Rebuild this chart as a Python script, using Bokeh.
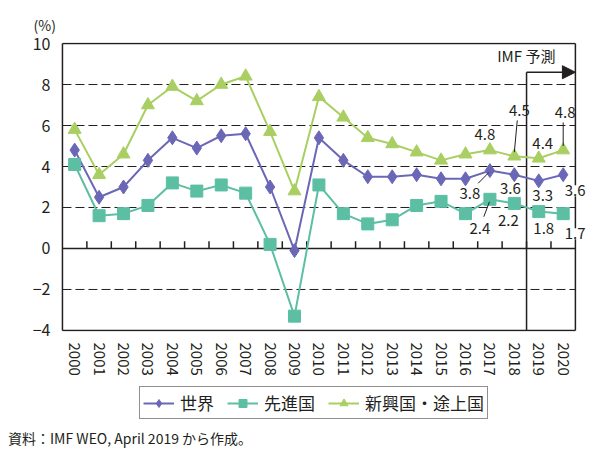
from bokeh.plotting import figure
from bokeh.layouts import column
from bokeh.models import (Range1d, FixedTicker, Label, Legend, LegendItem,
                          Arrow, NormalHead, Title, Div)
from bokeh.embed import file_html
from bokeh.resources import INLINE

# ---------------- data ----------------
years = [str(y) for y in range(2000, 2021)]
world = [4.8, 2.5, 3.0, 4.3, 5.4, 4.9, 5.5, 5.6, 3.0, -0.1, 5.4,
         4.3, 3.5, 3.5, 3.6, 3.4, 3.4, 3.8, 3.6, 3.3, 3.6]
advanced = [4.1, 1.6, 1.7, 2.1, 3.2, 2.8, 3.1, 2.7, 0.2, -3.3, 3.1,
            1.7, 1.2, 1.4, 2.1, 2.3, 1.7, 2.4, 2.2, 1.8, 1.7]
emerging = [5.8, 3.6, 4.6, 7.0, 7.9, 7.2, 8.0, 8.4, 5.7, 2.8, 7.4,
            6.4, 5.4, 5.1, 4.7, 4.3, 4.6, 4.8, 4.5, 4.4, 4.8]
series_names = ["世界", "先進国", "新興国・途上国"]
y_ticks = [-4, -2, 0, 2, 4, 6, 8, 10]
grid_levels = [-2, 2, 4, 6, 8]
forecast_start = "2019"
forecast_label = "IMF 予測"
unit_label = "(%)"
source_note = "資料：IMF WEO, April 2019 から作成。"
annotated_years = ["2017", "2018", "2019", "2020"]

FONT = "Noto Sans CJK JP"
INK = "#231f20"
C_WORLD = "#6b67b7"
C_ADV = "#5cbfa3"
C_EM = "#a9cf62"

xs = list(range(len(years)))
n = len(years)
x_lo, x_hi = -0.5, n - 0.5          # visible plot box
y_lo, y_hi = y_ticks[0], y_ticks[-1]

W, H1, H2, H3 = 600, 386, 40, 24

p = figure(width=W, height=H1, output_backend="svg", toolbar_location=None,
           x_range=Range1d(x_lo - 0.08, x_hi + 0.7),
           y_range=Range1d(y_lo - 0.05, y_hi + 0.05),
           min_border_left=60, min_border_right=8, min_border_top=42,
           min_border_bottom=H1 - 331)
p.background_fill_color = "white"
p.border_fill_color = "white"
p.outline_line_color = None

# axes
p.yaxis.ticker = FixedTicker(ticks=y_ticks)
p.yaxis.axis_line_color = None
p.yaxis.major_tick_line_color = None
p.yaxis.minor_tick_line_color = None
p.yaxis.major_label_text_font = FONT
p.yaxis.major_label_text_font_size = "16px"
p.yaxis.major_label_text_color = INK
p.yaxis.major_label_standoff = 4

p.xaxis.ticker = FixedTicker(ticks=xs)
p.xaxis.major_label_overrides = {i: y for i, y in enumerate(years)}
p.xaxis.major_label_orientation = "vertical"
p.xaxis.axis_line_color = None
p.xaxis.major_tick_line_color = None
p.xaxis.minor_tick_line_color = None
p.xaxis.major_label_text_font = FONT
p.xaxis.major_label_text_font_size = "15px"
p.xaxis.major_label_text_color = INK
p.xaxis.major_label_standoff = 5

p.xgrid.visible = False
p.ygrid.visible = False

# dashed grid lines limited to the plot box
p.segment(x0=[x_lo] * len(grid_levels), y0=grid_levels, x1=[x_hi] * len(grid_levels),
          y1=grid_levels, line_color=INK, line_width=1, line_dash="9 4")

# plot box
p.segment(x0=[x_lo, x_lo, x_lo, x_hi], y0=[y_lo, y_hi, y_lo, y_lo],
          x1=[x_hi, x_hi, x_lo, x_hi], y1=[y_lo, y_hi, y_hi, y_hi],
          line_color=INK, line_width=1.5)

# zero line with category-boundary ticks
p.segment(x0=[x_lo], y0=[0], x1=[x_hi], y1=[0], line_color=INK, line_width=1.5)
bx = [i + 0.5 for i in xs[:-1]]
p.segment(x0=bx, y0=[0] * len(bx), x1=bx, y1=[0.35] * len(bx), line_color=INK, line_width=1.5)

# forecast marker
fi = years.index(forecast_start) - 0.5
arrow_y = 8.6
p.segment(x0=[fi], y0=[y_lo], x1=[fi], y1=[arrow_y], line_color=INK, line_width=1.5)
p.add_layout(Arrow(x_start=fi, y_start=arrow_y, x_end=x_hi, y_end=arrow_y,
                   line_color=INK, line_width=1.5,
                   end=NormalHead(size=13, fill_color=INK, line_color=INK)))
p.add_layout(Label(x=x_hi, y=9.42, x_offset=-20, text=forecast_label, text_align="right",
                   text_baseline="middle", text_font=FONT, text_font_size="15px",
                   text_color=INK))

# series
marker_sizes = {"diamond": 14, "square": 12, "triangle": 13}
styles = [("diamond", C_WORLD), ("square", C_ADV), ("triangle", C_EM)]
series = [world, advanced, emerging]
for vals, (mk, col) in zip(series, styles):
    p.line(xs, vals, line_color=col, line_width=2)
    p.scatter(xs, vals, marker=mk, size=marker_sizes[mk], fill_color=col, line_color=col)

# value annotations: offsets (px) per annotated year
offsets = {
    "em": [(-5, 16), (5, 46), (4, 15), (2, 38)],
    "w": [(-20, -23), (-4, -14), (4, -15), (12, -16)],
    "a": [(-10, -29), (-6, -17), (5, -17), (12, -20)],
}
data = {"em": emerging, "w": world, "a": advanced}
for key, offs in offsets.items():
    vals = data[key]
    for yr, (dx, dy) in zip(annotated_years, offs):
        i = years.index(yr)
        bg = "white" if (i == n - 1 and key != "em") else None
        p.add_layout(Label(x=i, y=vals[i], x_offset=dx, y_offset=dy, text=f"{vals[i]:.1f}",
                           text_align="center", text_baseline="middle", text_font=FONT,
                           text_font_size="15px", text_color=INK,
                           background_fill_color=bg))

# leader lines (data-space offsets)
i17, i18, i20 = years.index("2017"), years.index("2018"), years.index("2020")
lead_x0 = [i18 + 0.12, i20, i17 - 0.48, i17 - 0.25]
lead_y0 = [emerging[i18] + 1.75, emerging[i20] + 1.35, world[i17] - 0.62, advanced[i17] - 0.85]
lead_x1 = [i18, i20, i17 - 0.05, i17 - 0.02]
lead_y1 = [emerging[i18] + 0.2, emerging[i20] + 0.2, world[i17] - 0.1, advanced[i17] - 0.12]
p.segment(x0=lead_x0, y0=lead_y0, x1=lead_x1, y1=lead_y1, line_color=INK, line_width=1)

# unit label
p.add_layout(Title(text=unit_label, align="left", offset=-27, standoff=16,
                   text_font=FONT, text_font_size="14px", text_font_style="normal",
                   text_color=INK), "above")

# ---------------- legend strip ----------------
q = figure(width=W, height=H2, output_backend="svg", toolbar_location=None,
           x_range=Range1d(1000, 1001), y_range=Range1d(1000, 1001),
           x_axis_location=None, y_axis_location=None,
           min_border=0, min_border_left=60, min_border_right=8,
           min_border_top=0, min_border_bottom=0)
q.outline_line_color = None
q.xgrid.visible = False
q.ygrid.visible = False
q.background_fill_color = "white"
q.border_fill_color = "white"

items = []
for name, vals, (mk, col) in zip(series_names, series, styles):
    # same series drawn outside this strip's visible range; used only for legend glyphs
    rl = q.line(xs, vals, line_color=col, line_width=2)
    rm = q.scatter(xs, vals, marker=mk, size=marker_sizes[mk] - 2, fill_color=col, line_color=col)
    items.append(LegendItem(label=name, renderers=[rl, rm]))

legend = Legend(items=items, orientation="horizontal", location=(79, 7))
legend.label_text_font = FONT
legend.label_text_font_size = "17px"
legend.label_text_color = INK
legend.glyph_width = 31
legend.glyph_height = 20
legend.label_height = 20
legend.label_standoff = 6
legend.spacing = 13
legend.padding = 3
legend.margin = 0
legend.border_line_color = INK
legend.border_line_width = 1.5
legend.background_fill_alpha = 1
q.add_layout(legend)

note = Div(text=source_note, width=W - 8, height=H3, margin=(0, 0, 0, 8),
           styles={"font-family": FONT, "font-size": "14px", "color": INK,
                   "line-height": f"{H3}px", "white-space": "nowrap"})

layout = column(p, q, note, spacing=0)
open("out.html", "w").write(file_html(layout, INLINE))
